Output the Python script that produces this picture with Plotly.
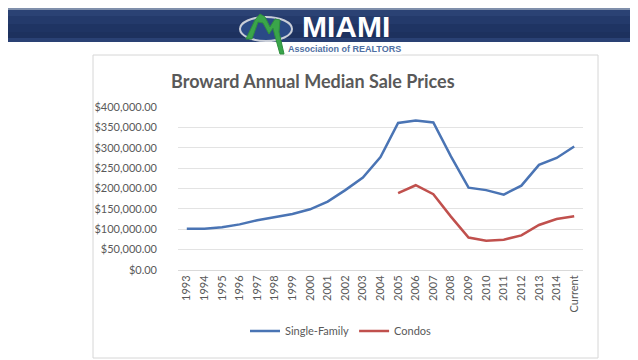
import plotly.graph_objects as go

years = ["1993", "1994", "1995", "1996", "1997", "1998", "1999", "2000", "2001", "2002",
         "2003", "2004", "2005", "2006", "2007", "2008", "2009", "2010", "2011", "2012",
         "2013", "2014", "Current"]
single_family = [101000, 101000, 105000, 112000, 122000, 129500, 137500, 149000, 168000, 196000,
                 227000, 277000, 361000, 367000, 362000, 279000, 202000, 196000, 185000, 207000,
                 258000, 275000, 303000]
condos = [None] * 12 + [188500, 208000, 186000, 131000, 79500, 72000, 74500, 85000,
                        110500, 125000, 132000]
y_ticks = [0, 50000, 100000, 150000, 200000, 250000, 300000, 350000, 400000]

W, H = 638, 360
L, R, T, B = 170, 575, 99, 262


def px(x):
    return (x - L) / (R - L)


def py(y):
    return (B - y) / (B - T)


fig = go.Figure()
fig.add_trace(go.Scatter(x=years, y=single_family, mode="lines", name="Single-Family",
                         line=dict(color="#4a74b4", width=2.5)))
fig.add_trace(go.Scatter(x=years, y=condos, mode="lines", name="Condos",
                         line=dict(color="#c0504d", width=2.5)))

shapes = []
# header band stripes
bands = [(0, 2, "#7f8fab"), (2, 8, "#2b4274"), (8, 16, "#243a6b"), (16, 24, "#1f3463"),
         (24, 30, "#1d315e"), (30, 34, "#2a4174")]
for y0, y1, c in bands:
    shapes.append(dict(type="rect", xref="paper", yref="paper", x0=px(0), x1=px(W),
                       y0=py(y1), y1=py(y0), fillcolor=c, line=dict(width=0), layer="below"))
# chart box
shapes.append(dict(type="rect", xref="paper", yref="paper", x0=px(85), x1=px(590),
                   y0=py(350), y1=py(47), line=dict(color="#d6d6d6", width=1),
                   fillcolor="rgba(0,0,0,0)", layer="below"))
# logo ellipse
shapes.append(dict(type="circle", xref="paper", yref="paper", x0=px(232), x1=px(284),
                   y0=py(33), y1=py(9), fillcolor="#2a4a86", line=dict(color="#c9ced8", width=2)))
# green M swoosh
pts = [(238, 31), (247, 12), (252, 6), (257, 9), (262, 19), (267, 11), (272, 12), (271, 24),
       (276, 46), (272, 46), (267, 28), (265, 20), (261, 26), (255, 15), (250, 14), (244, 31)]
path = "M " + " L ".join(f"{px(x):.5f},{py(y):.5f}" for x, y in pts) + " Z"
shapes.append(dict(type="path", xref="paper", yref="paper", path=path,
                   fillcolor="#3aa54a", line=dict(color="#2f8f3e", width=1)))

annotations = [
    dict(text="<b>MIAMI</b>", x=px(338), y=py(18.5), xref="paper", yref="paper", showarrow=False,
         font=dict(family="Liberation Sans", size=30, color="white"), xanchor="center",
         yanchor="middle"),
    dict(text="<b>Association of REALTORS</b>", x=px(336), y=py(40.5), xref="paper", yref="paper",
         showarrow=False, font=dict(family="Liberation Sans Narrow, Liberation Sans", size=9,
                                    color="#4f6fa3"),
         xanchor="center", yanchor="middle", bgcolor="white", borderpad=0),
    dict(text="<b>Broward Annual Median Sale Prices</b>", x=px(305), y=py(73), xref="paper",
         yref="paper", showarrow=False, font=dict(family="Lato", size=18, color="#595959"),
         xanchor="center", yanchor="middle"),
]

fig.update_layout(
    width=W, height=H,
    margin=dict(l=L, r=W - R, t=T, b=H - B),
    paper_bgcolor="white", plot_bgcolor="white",
    shapes=shapes, annotations=annotations,
    font=dict(family="Lato", size=11, color="#595959"),
    showlegend=True,
    legend=dict(orientation="h", x=px(333), y=py(323), xanchor="center", yanchor="middle",
                font=dict(size=11, color="#595959"), bgcolor="rgba(0,0,0,0)"),
    xaxis=dict(type="category", tickangle=-90, showgrid=False, showline=True,
               linecolor="#d9d9d9", ticks="", tickfont=dict(size=11, color="#595959"),
               range=[-0.5, len(years) - 0.5], fixedrange=True),
    yaxis=dict(range=[0, 400000], tickvals=y_ticks,
               ticktext=[f"${v:,.2f}" for v in y_ticks], showgrid=True,
               gridcolor="#e3e3e3", gridwidth=1, zeroline=False, ticks="",
               ticklabelstandoff=20,
               tickfont=dict(size=11, color="#595959"), fixedrange=True),
)

fig.write_html("out.html")
